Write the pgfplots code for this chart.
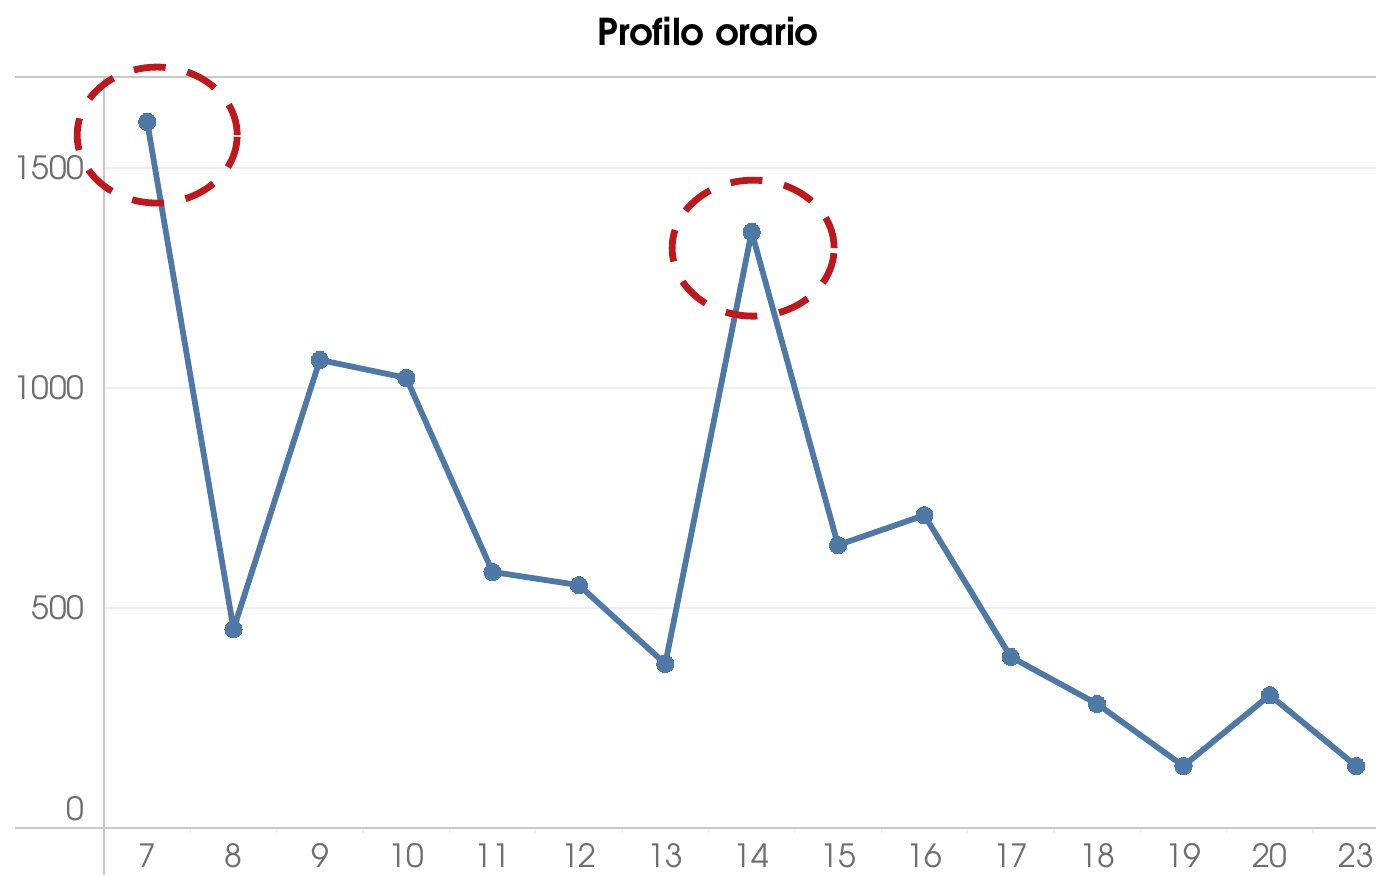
\documentclass[border=0pt]{standalone}
\usepackage{fontspec}
\setmainfont{texgyreadventor}[Extension=.otf, UprightFont=*-regular, BoldFont=*-bold, ItalicFont=*-italic, BoldItalicFont=*-bolditalic]
\usepackage{pgfplots}
\pgfplotsset{compat=1.18}
\definecolor{lineblue}{RGB}{78,121,167}
\definecolor{annred}{RGB}{190,24,28}
\definecolor{axisgray}{RGB}{200,200,200}
\definecolor{gridgray}{RGB}{238,238,238}
\definecolor{labelgray}{RGB}{110,110,110}
\begin{document}
\begin{tikzpicture}
\begin{axis}[
  scale only axis,
  width=636pt, height=375.5pt,
  xmin=-0.5, xmax=14.23,
  ymin=0, ymax=1707,
  clip=false,
  axis line style={draw=none},
  xtick={0,...,14},
  xticklabels={7,8,9,10,11,12,13,14,15,16,17,18,19,20,23},
  minor xtick={0.5,1.5,...,13.5},
  ytick={500,1000,1500},
  extra y ticks={0},
  extra y tick style={yticklabel style={yshift=9.5pt}, grid=none},
  xtick pos=bottom, ytick pos=left,
  major tick length=0pt,
  minor tick length=2.5pt,
  tick align=outside,
  minor tick style={draw=gridgray, line width=0.6pt},
  ymajorgrids=true,
  grid style={draw=gridgray, line width=0.6pt},
  /pgf/number format/assume math mode=true,
  /pgf/number format/1000 sep={},
  ticklabel style={font=\fontsize{16}{18}\selectfont, text=labelgray},
  yticklabel style={anchor=east, inner sep=0pt, xshift=-9.5pt},
  xticklabel style={anchor=north, inner sep=0pt, yshift=-7.5pt},
]
\draw[axisgray, line width=0.8pt] ([xshift=-44.5pt]rel axis cs:0,0) -- (rel axis cs:1,0);
\draw[axisgray, line width=0.8pt] ([xshift=-44.5pt]rel axis cs:0,1) -- (rel axis cs:1,1);
\draw[axisgray, line width=0.8pt] ([yshift=-23.5pt]rel axis cs:0,0) -- (rel axis cs:0,1);
\addplot[lineblue, line width=2.9pt, line join=round, line cap=round, mark=*, mark size=4.3pt, mark options={fill=lineblue, draw=lineblue, line width=0pt}] coordinates {
(0,1605) (1,452) (2,1064) (3,1023) (4,582) (5,552) (6,373) (7,1355)
(8,643) (9,711) (10,389) (11,282) (12,141) (13,302) (14,141)
};
\draw[annred, line width=3.4pt, dash pattern=on 16pt off 11pt] (axis cs:0.116,1575) ellipse [x radius=40pt, y radius=34pt];
\draw[annred, line width=3.4pt, dash pattern=on 16pt off 11pt] (axis cs:7.017,1318) ellipse [x radius=40.5pt, y radius=34pt];
\end{axis}
\node at (302pt,398pt) {\fontsize{18.5}{21}\selectfont\bfseries Profilo orario};
\pgfresetboundingbox
\path[use as bounding box] (-52pt,-23.5pt) rectangle (636pt,414pt);
\end{tikzpicture}
\end{document}
